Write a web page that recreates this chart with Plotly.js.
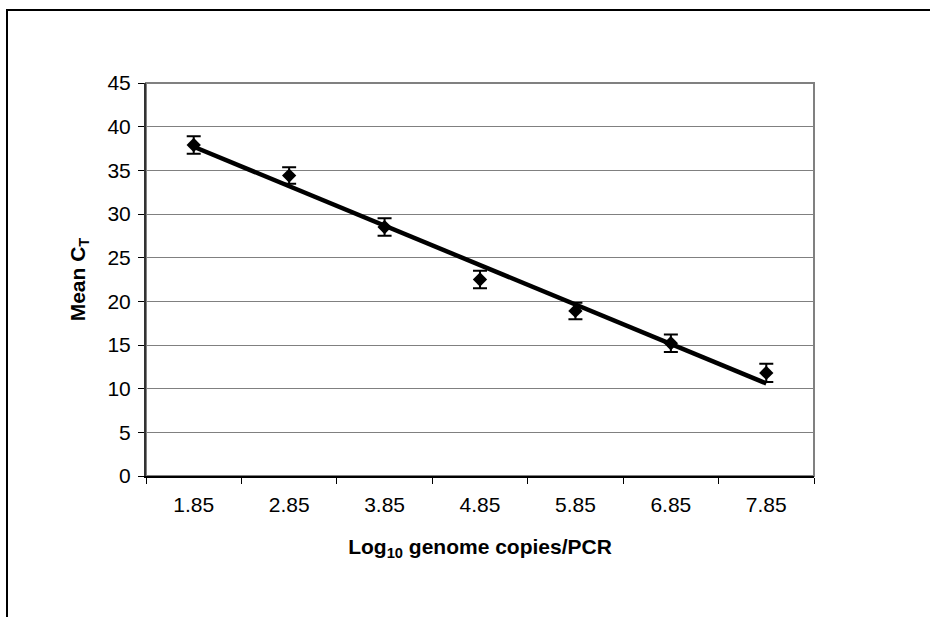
<!DOCTYPE html>
<html>
<head>
<meta charset="utf-8">
<script src="https://cdn.plot.ly/plotly-3.0.1.min.js"></script>
<style>
  html, body { margin: 0; padding: 0; background: #fff; overflow: hidden; }
  #chart { width: 930px; height: 617px; }
</style>
</head>
<body>
<div id="chart"></div>
<script>
// Data
const categories = ['1.85', '2.85', '3.85', '4.85', '5.85', '6.85', '7.85'];
const meanCt = [37.9, 34.4, 28.5, 22.5, 18.9, 15.2, 11.8];
const errCt = [1.0, 0.95, 1.0, 1.0, 0.95, 1.0, 1.05];
const trendX = ['1.85', '7.85'];
const trendY = [37.7, 10.6];

const traces = [
  {
    x: categories, y: meanCt, type: 'scatter', mode: 'markers',
    marker: { symbol: 'diamond', size: 11, color: '#000' },
    error_y: { type: 'data', array: errCt, visible: true, color: '#000', thickness: 2, width: 7 },
    showlegend: false, hoverinfo: 'skip'
  },
  {
    x: trendX, y: trendY, type: 'scatter', mode: 'lines',
    line: { color: '#000', width: 4.5 },
    showlegend: false, hoverinfo: 'skip'
  }
];

// plot area: x 146..814, y 83..476 in pixels
const L = 146, R = 814, T = 83, B = 476;
const px = v => (v - L) / (R - L);
const py = v => (B - v) / (B - T);

const layout = {
  width: 930, height: 617,
  margin: { l: L, r: 930 - R, t: T, b: 617 - B, pad: 0 },
  paper_bgcolor: '#fff', plot_bgcolor: '#fff',
  font: { family: 'Liberation Sans, Arial, sans-serif', color: '#000', size: 21 },
  showlegend: false,
  xaxis: {
    type: 'category', categoryorder: 'array', categoryarray: categories,
    range: [-0.5, 6.5], autorange: false,
    tickson: 'boundaries', ticks: 'outside', ticklen: 6, tickcolor: '#000', tickwidth: 1,
    ticklabelstandoff: 9,
    showgrid: false, zeroline: false,
    showline: true, linecolor: '#000', linewidth: 1.5,
    tickfont: { size: 21 },
    title: { text: '<b>Log<sub>10</sub> genome copies/PCR</b>', font: { size: 21 }, standoff: 24 }
  },
  yaxis: {
    range: [0, 45], autorange: false, tickmode: 'linear', tick0: 0, dtick: 5,
    ticks: 'outside', ticklen: 6, tickcolor: '#000', tickwidth: 1,
    ticklabelstandoff: 3,
    showgrid: true, gridcolor: '#808080', gridwidth: 1,
    zeroline: false, showline: true, linecolor: '#333', linewidth: 2,
    tickfont: { size: 21 },
    title: { text: '<b>Mean C<sub>T</sub></b>', font: { size: 21 }, standoff: 16 }
  },
  shapes: [
    { type: 'rect', xref: 'paper', yref: 'paper', x0: 0, x1: 1, y0: 0, y1: 1,
      line: { color: '#808080', width: 2 }, layer: 'below' },
    { type: 'path', xref: 'paper', yref: 'paper',
      path: 'M ' + px(7) + ' ' + py(640) + ' L ' + px(7) + ' ' + py(10) + ' L ' + px(940) + ' ' + py(10),
      line: { color: '#000', width: 2 }, layer: 'above' }
  ]
};

Plotly.newPlot('chart', traces, layout, { staticPlot: true, displayModeBar: false });
</script>
</body>
</html>
